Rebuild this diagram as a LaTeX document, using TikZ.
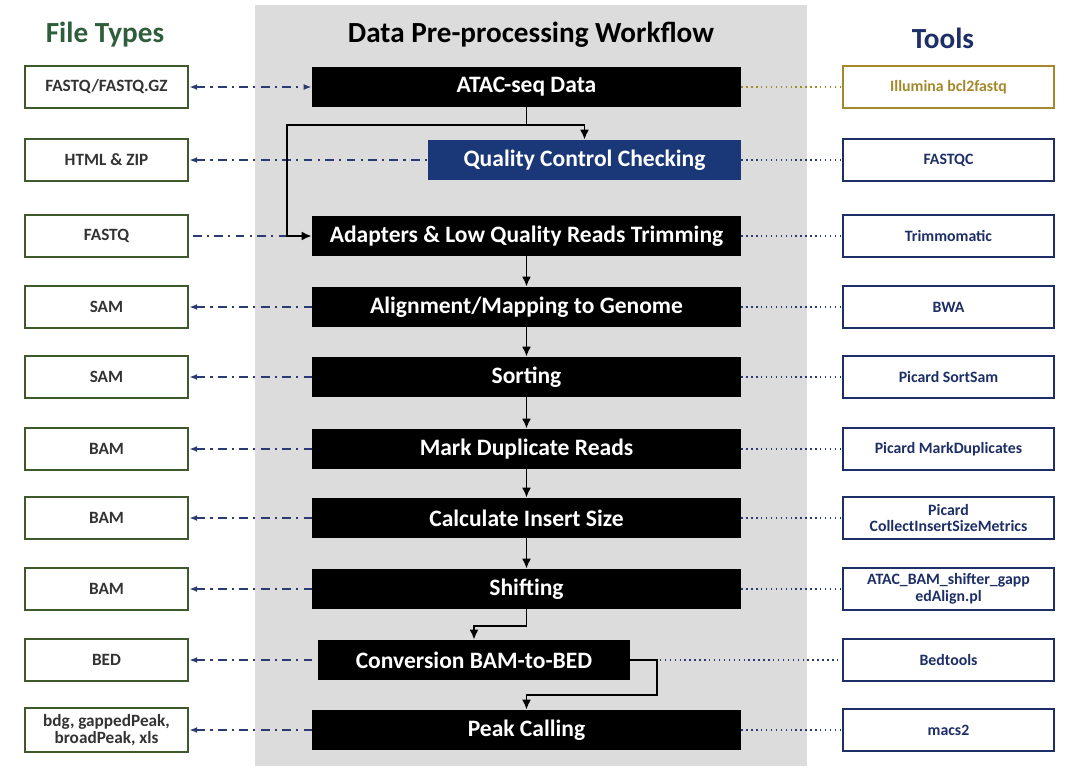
\documentclass[tikz,border=0pt]{standalone}
\usepackage{fontspec}
\setmainfont{Carlito}
\usetikzlibrary{arrows.meta,positioning}
\definecolor{grisFondo}{HTML}{DCDCDC}
\definecolor{verdeArchivo}{HTML}{3E5A2C}
\definecolor{verdeTitulo}{HTML}{2E5E3C}
\definecolor{azulOsc}{HTML}{1E2E66}
\definecolor{azulPaso}{HTML}{1A3878}
\definecolor{azulLinea}{HTML}{2A3A72}
\definecolor{doradoIll}{HTML}{A4882C}

\begin{document}
\begin{tikzpicture}[
    archivo/.style={rectangle, draw=verdeArchivo, line width=1.4pt, fill=white,
                    minimum width=3.26cm, minimum height=0.84cm, align=center,
                    font=\fontsize{9.8}{10}\selectfont\bfseries, text=black!80},
    paso/.style={rectangle, fill=black, text=white, minimum width=8.58cm,
                 minimum height=0.8cm, align=center, font=\fontsize{13.4}{15}\selectfont\bfseries},
    herramienta/.style={rectangle, draw=azulOsc, line width=1.4pt, fill=white,
                        minimum width=4.22cm, minimum height=0.84cm, align=center,
                        font=\fontsize{9}{9.5}\selectfont\bfseries, text=azulOsc},
    titulo/.style={font=\fontsize{16.6}{19}\selectfont\bfseries},
    flecha/.style={-{Latex[length=2mm,width=1.8mm]}, line width=1.1pt, draw=black},
    puntoraya/.style={line width=1pt, draw=azulLinea,
                      dash pattern=on 5pt off 3pt on 1.2pt off 3pt},
    punteado/.style={line width=0.8pt, draw=azulLinea, dotted}
  ]
  \useasboundingbox (0,0) rectangle (21.42,-15.32);
  % Banda gris del flujo
  \fill[grisFondo] (5.1,-0.1) rectangle (16.14,-15.32);

  % Titulos
  \node[titulo, text=verdeTitulo] (tarch) at (2.1,-0.7) {File Types};
  \node[titulo] (tflujo) at (10.62,-0.7) {Data Pre-processing Workflow};
  \node[titulo, text=azulOsc] (therr) at (18.86,-0.76) {Tools};

  % Columna central (pasos)
  \node[paso] (atac) at (10.53,-1.74) {ATAC-seq Data};
  \node[paso, fill=azulPaso, minimum width=6.26cm] (qc) at (11.69,-3.2) {Quality Control Checking};
  \node[paso] (trim) at (10.53,-4.72) {Adapters \& Low Quality Reads Trimming};
  \node[paso] (align) at (10.53,-6.14) {Alignment/Mapping to Genome};
  \node[paso] (sort) at (10.53,-7.54) {Sorting};
  \node[paso] (dup) at (10.53,-8.98) {Mark Duplicate Reads};
  \node[paso] (insert) at (10.53,-10.36) {Calculate Insert Size};
  \node[paso] (shift) at (10.53,-11.78) {Shifting};
  \node[paso, minimum width=6.24cm] (conv) at (9.48,-13.2) {Conversion BAM-to-BED};
  \node[paso] (peak) at (10.53,-14.6) {Peak Calling};

  % Columna izquierda (tipos de archivo)
  \node[archivo] (f1) at (2.13,-1.74) {FASTQ/FASTQ.GZ};
  \node[archivo] (f2) at (2.13,-3.2) {HTML \& ZIP};
  \node[archivo] (f3) at (2.13,-4.72) {FASTQ};
  \node[archivo] (f4) at (2.13,-6.14) {SAM};
  \node[archivo] (f5) at (2.13,-7.54) {SAM};
  \node[archivo] (f6) at (2.13,-8.98) {BAM};
  \node[archivo] (f7) at (2.13,-10.36) {BAM};
  \node[archivo] (f8) at (2.13,-11.78) {BAM};
  \node[archivo] (f9) at (2.13,-13.2) {BED};
  \node[archivo] (f10) at (2.13,-14.6) {bdg, gappedPeak,\\ broadPeak, xls};

  % Columna derecha (herramientas)
  \node[herramienta, draw=doradoIll, text=doradoIll] (h1) at (18.97,-1.74) {Illumina bcl2fastq};
  \node[herramienta] (h2) at (18.97,-3.2) {FASTQC};
  \node[herramienta] (h3) at (18.97,-4.72) {Trimmomatic};
  \node[herramienta] (h4) at (18.97,-6.14) {BWA};
  \node[herramienta] (h5) at (18.97,-7.54) {Picard SortSam};
  \node[herramienta] (h6) at (18.97,-8.98) {Picard MarkDuplicates};
  \node[herramienta] (h7) at (18.97,-10.36) {Picard\\ CollectInsertSizeMetrics};
  \node[herramienta] (h8) at (18.97,-11.78) {ATAC\_BAM\_shifter\_gapp\\ edAlign.pl};
  \node[herramienta] (h9) at (18.97,-13.2) {Bedtools};
  \node[herramienta] (h10) at (18.97,-14.6) {macs2};

  % Conexiones archivo <- paso
  \draw[puntoraya, {Latex[length=1.6mm]}-{Latex[length=1.6mm]}] (f1.east) -- (atac.west);
  \draw[puntoraya] ([xshift=2pt]f3.east) -- (trim.west);
  \foreach \f/\p in {f2/qc,f4/align,f5/sort,f6/dup,f7/insert,f8/shift,f9/conv,f10/peak} {
    \draw[puntoraya, {Latex[length=1.6mm]}-] (\f.east) -- (\p.west);
  }

  % Conexiones paso -- herramienta
  \draw[punteado, draw=doradoIll] (atac.east) -- (h1.west);
  \foreach \p/\h in {qc/h2,trim/h3,align/h4,sort/h5,dup/h6,insert/h7,shift/h8,conv/h9,peak/h10} {
    \draw[punteado] (\p.east) -- (\h.west);
  }

  % Flujo principal
  \coordinate (rama) at (10.53,-2.5);
  \coordinate (izq) at (5.74,-2.5);
  \draw[line width=1.1pt] (atac.south) -- (rama);
  \draw[flecha] (rama) -| (qc.north);
  \draw[flecha] (rama) -- (izq) |- (trim.west);
  \foreach \a/\b in {trim/align,align/sort,sort/dup,dup/insert,insert/shift} {
    \draw[flecha] (\a) -- (\b);
  }
  \draw[flecha] (shift.south) -- ++(0,-0.34) -| (conv.north);
  \coordinate (codo) at (13.14,-13.2);
  \draw[flecha] (conv.east) -- (codo) -- ++(0,-0.7) -| (peak.north);
\end{tikzpicture}
\end{document}
